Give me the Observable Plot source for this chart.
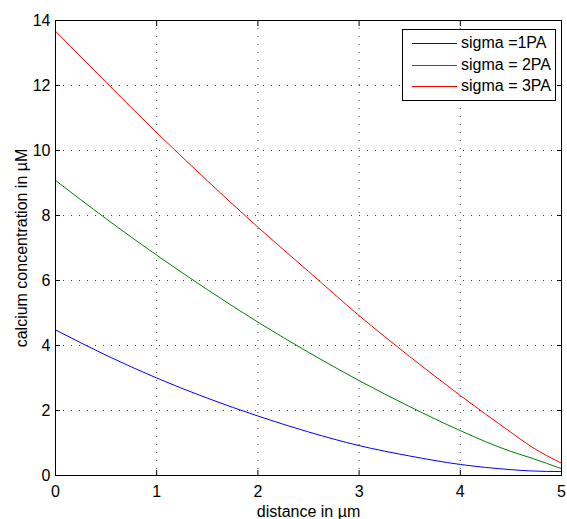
<!DOCTYPE html>
<html>
<head>
<meta charset="utf-8">
<script src="https://cdn.jsdelivr.net/npm/d3@7"></script>
<script src="https://cdn.jsdelivr.net/npm/@observablehq/plot@0.6"></script>
<style>
  html, body { margin: 0; padding: 0; background: #fff; }
  #wrap { position: relative; width: 567px; height: 519px; font-family: "Liberation Sans", Arial, sans-serif; }
  #legend { position: absolute; left: 402px; top: 29px; width: 152px; height: 70px; border: 1px solid #000; background: #fff; font-size: 16px; }
  .row { position: absolute; left: 0; height: 20px; width: 100%; }
  .row .ln { position: absolute; left: 9px; width: 45px; top: 0; height: 1px; }
  .row .tx { position: absolute; left: 58px; top: -10px; line-height: 20px; white-space: nowrap; color: #000; }
</style>
</head>
<body>
<div id="wrap"></div>
<script>
const distance = [0, 0.5, 1, 1.5, 2, 2.5, 3, 3.5, 4, 4.5, 4.7, 5];
const sigma1 = [4.48, 3.70, 3.00, 2.38, 1.83, 1.34, 0.92, 0.60, 0.34, 0.18, 0.14, 0.12];
const sigma2 = [9.08, 7.90, 6.78, 5.72, 4.72, 3.79, 2.92, 2.12, 1.38, 0.74, 0.54, 0.21];
const sigma3 = [13.67, 12.10, 10.55, 9.07, 7.64, 6.28, 4.92, 3.66, 2.46, 1.33, 0.89, 0.38];
const seriesNames = ["sigma =1PA", "sigma = 2PA", "sigma = 3PA"];
const seriesColors = ["#0000ff", "#008000", "#ff0000"];
const xTicks = [0, 1, 2, 3, 4, 5];
const yTicks = [0, 2, 4, 6, 8, 10, 12, 14];

const allSeries = [sigma1, sigma2, sigma3];
const rows = [];
allSeries.forEach((vals, i) => vals.forEach((v, j) => rows.push({x: distance[j], y: v, s: seriesNames[i]})));

const grid = {stroke: "#000", strokeOpacity: 0.75, strokeDasharray: "1,7"};

const chart = Plot.plot({
  width: 567,
  height: 519,
  marginLeft: 55,
  marginRight: 6,
  marginTop: 20,
  marginBottom: 44,
  style: {fontFamily: "'Liberation Sans', Arial, sans-serif", fontSize: "16px", color: "#000", background: "#fff", overflow: "visible"},
  x: {domain: [0, 5]},
  y: {domain: [0, 14]},
  color: {domain: seriesNames, range: seriesColors},
  marks: [
    Plot.gridX(xTicks.slice(1, -1), {...grid}),
    Plot.gridY(yTicks.slice(1, -1), {...grid}),
    Plot.line(rows, {x: "x", y: "y", z: "s", stroke: "s", strokeWidth: 1, curve: "monotone-x"}),
    Plot.axisX(xTicks, {anchor: "bottom", tickSize: -5, tickPadding: 15, label: "distance in µm", labelAnchor: "center", labelArrow: "none", labelOffset: 41}),
    Plot.axisX(xTicks, {anchor: "top", tickSize: -5, tickFormat: () => "", label: null}),
    Plot.axisY(yTicks, {anchor: "left", tickSize: -5, tickPadding: 10, label: "calcium concentration in µM", labelAnchor: "center", labelArrow: "none", labelOffset: 40}),
    Plot.axisY(yTicks, {anchor: "right", tickSize: -5, tickFormat: () => "", label: null}),
    Plot.frame({stroke: "#000", strokeWidth: 1})
  ]
});

const wrap = document.getElementById("wrap");
wrap.appendChild(chart);

const legend = document.createElement("div");
legend.id = "legend";
seriesNames.forEach((name, i) => {
  const row = document.createElement("div");
  row.className = "row";
  row.style.top = (13 + i * 21.5) + "px";
  const ln = document.createElement("div");
  ln.className = "ln";
  ln.style.background = seriesColors[i];
  const tx = document.createElement("div");
  tx.className = "tx";
  tx.textContent = name;
  row.appendChild(ln);
  row.appendChild(tx);
  legend.appendChild(row);
});
wrap.appendChild(legend);
</script>
</body>
</html>
